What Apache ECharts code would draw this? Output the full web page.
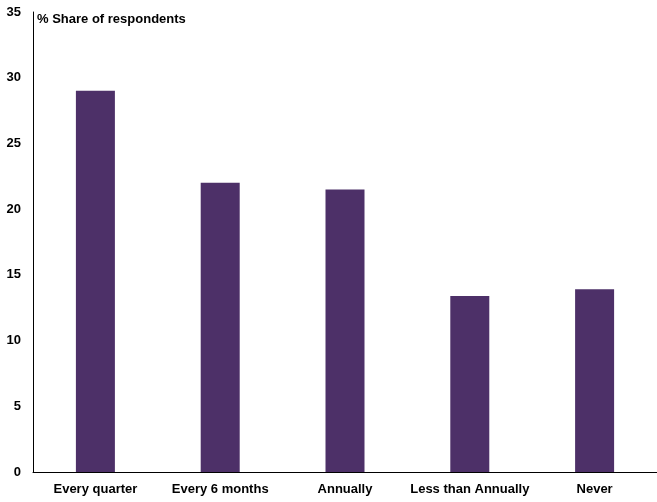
<!DOCTYPE html>
<html>
<head>
<meta charset="utf-8">
<script src="https://cdn.jsdelivr.net/npm/echarts@6/dist/echarts.min.js"></script>
<style>
  html, body { margin: 0; padding: 0; background: #ffffff; }
  #chart { width: 657px; height: 502px; }
</style>
</head>
<body>
<div id="chart"></div>
<script>
// Survey frequency categories and share of respondents (%)
const categories = ['Every quarter', 'Every 6 months', 'Annually', 'Less than Annually', 'Never'];
const shares = [29, 22, 21.5, 13.4, 13.9];
const yTicks = { min: 0, max: 35, interval: 5 };
const axisTitle = '% Share of respondents';

const FONT = '"Liberation Sans", Arial, sans-serif';

const chart = echarts.init(document.getElementById('chart'), null, { renderer: 'canvas' });
chart.setOption({
  animation: false,
  backgroundColor: '#ffffff',
  title: {
    text: axisTitle,
    left: 37,
    top: 13,
    padding: 0,
    textStyle: { fontFamily: FONT, fontWeight: 'bold', fontSize: 13, color: '#000000' }
  },
  grid: { left: 33, top: 12, width: 628, bottom: 30, containLabel: false },
  xAxis: {
    type: 'category',
    data: categories,
    axisLine: { show: true, lineStyle: { color: '#000000', width: 1 } },
    axisTick: { show: false },
    axisLabel: {
      interval: 0,
      margin: 11,
      color: '#000000',
      fontFamily: FONT,
      fontWeight: 'bold',
      fontSize: 13
    },
    splitLine: { show: false }
  },
  yAxis: {
    type: 'value',
    min: yTicks.min,
    max: yTicks.max,
    interval: yTicks.interval,
    axisLine: { show: true, lineStyle: { color: '#000000', width: 1 } },
    axisTick: { show: false },
    axisLabel: {
      margin: 12,
      color: '#000000',
      fontFamily: FONT,
      fontWeight: 'bold',
      fontSize: 13
    },
    splitLine: { show: false }
  },
  series: [{
    type: 'bar',
    data: shares,
    barWidth: 39,
    itemStyle: { color: '#4d3068' }
  }]
});
</script>
</body>
</html>
